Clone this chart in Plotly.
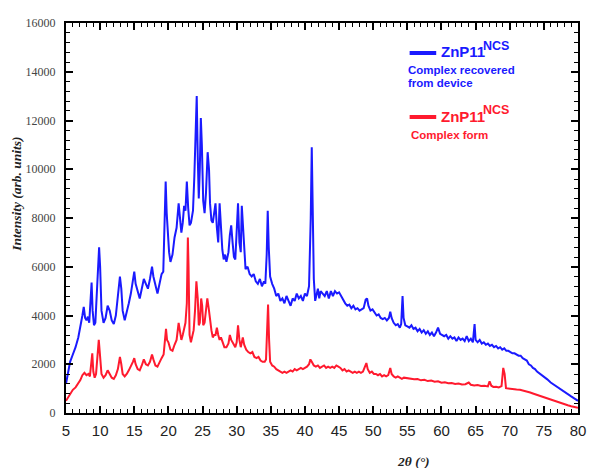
import plotly.graph_objects as go

# ---- Blue series: ZnP11NCS complex recovered from device ----
two_theta_blue = [
    5.0, 5.3, 5.6, 6.0, 6.4, 6.8, 7.1, 7.4, 7.6, 7.8, 8.0, 8.2, 8.4, 8.6, 8.75, 8.9, 9.1, 9.3, 9.5, 9.7,
    9.85, 10.0, 10.2, 10.5, 10.8, 11.1, 11.4, 11.7, 12.0, 12.3, 12.6, 12.9, 13.1, 13.3, 13.6, 13.9, 14.2,
    14.5, 14.8, 15.0, 15.2, 15.5, 15.8, 16.1, 16.4, 16.7, 17.0, 17.3, 17.6, 17.8, 18.1, 18.4, 18.7, 19.0,
    19.25, 19.45, 19.6, 19.75, 19.9, 20.1, 20.3, 20.6, 20.9, 21.2, 21.5, 21.7, 21.9, 22.1, 22.3, 22.5,
    22.7, 22.9, 23.1, 23.3, 23.6, 23.8, 24.0, 24.15, 24.3, 24.45, 24.6, 24.75, 24.9, 25.1, 25.3, 25.5,
    25.75, 25.95, 26.1, 26.3, 26.5, 26.7, 26.9, 27.1, 27.3, 27.5, 27.7, 27.9, 28.1, 28.3, 28.5, 28.8,
    29.0, 29.2, 29.4, 29.6, 29.8, 30.0, 30.2, 30.4, 30.6, 30.75, 30.9, 31.1, 31.3, 31.6, 31.9, 32.2,
    32.5, 32.8, 33.1, 33.4, 33.7, 34.0, 34.2, 34.4, 34.55, 34.7, 34.9, 35.2, 35.5, 35.8, 36.1, 36.4,
    36.7, 37.0, 37.3, 37.6, 37.9, 38.2, 38.5, 38.8, 39.1, 39.4, 39.7, 40.0, 40.3, 40.6, 40.85, 41.0,
    41.15, 41.3, 41.5, 41.7, 41.9, 42.1, 42.3, 42.6, 42.9, 43.2, 43.5, 43.8, 44.1, 44.4, 44.7, 45.0,
    45.3, 45.6, 45.9, 46.2, 46.5, 46.8, 47.1, 47.4, 47.7, 48.0, 48.3, 48.6, 48.9, 49.1, 49.3, 49.6,
    49.9, 50.2, 50.5, 50.8, 51.1, 51.4, 51.7, 52.0, 52.3, 52.5, 52.7, 53.0, 53.3, 53.6, 53.9, 54.1,
    54.3, 54.45, 54.7, 55.0, 55.3, 55.6, 55.9, 56.2, 56.5, 56.8, 57.1, 57.4, 57.7, 58.0, 58.3, 58.6,
    58.9, 59.2, 59.5, 59.8, 60.1, 60.4, 60.7, 61.0, 61.3, 61.6, 61.9, 62.2, 62.5, 62.8, 63.1, 63.4,
    63.7, 64.0, 64.3, 64.6, 64.85, 65.0, 65.3, 65.6, 65.9, 66.2, 66.5, 66.8, 67.1, 67.4, 67.7, 68.0,
    68.3, 68.6, 68.9, 69.2, 69.5, 69.8, 70.1, 70.4, 70.7, 71.0, 71.3, 71.6, 71.9, 72.2, 72.5, 72.8,
    73.1, 73.4, 73.7, 74.0, 74.5, 75.0, 75.5, 76.0, 76.5, 77.0, 77.5, 78.0, 78.5, 79.0, 79.5, 80.0,
]
intensity_blue = [
    1200, 1700, 2100, 2400, 2700, 3100, 3500, 4000, 4350, 3900, 3800, 3950, 3700, 4600, 5350, 4200, 3600, 3700, 4800, 5900,
    6800, 6000, 4200, 3700, 3900, 4400, 4200, 3800, 3650, 4000, 4700, 5600, 5100, 4200, 3800, 4100, 4500,
    4900, 5500, 5800, 5300, 5000, 4700, 5100, 5500, 5300, 5100, 5500, 6000, 5600, 5200, 4900, 5300, 5700,
    5800, 7800, 9500, 8200, 7500, 6600, 6200, 6500, 7200, 7600, 8600, 8100, 7400, 7800, 8500, 8300,
    9500, 8400, 7700, 7800, 8300, 9700, 12000, 13000, 10500, 8800, 10000, 12100, 11000, 8700, 8200, 9000,
    10700, 10000, 8600, 7900, 7800, 8300, 8600, 7600, 7000, 8600, 7600, 6700, 6300, 6500, 6200, 6600,
    7300, 7700, 7000, 6400, 6300, 7300, 8600, 7000, 6600, 8500, 7800, 6400, 5900, 6000, 5700, 5600,
    5700, 5400, 5300, 5500, 5200, 5400, 5300, 6500, 8300, 6800, 5600, 5300, 5100, 4800, 4900, 4600,
    4700, 4500, 4800, 4600, 4400, 4700, 4600, 4900, 4700, 4800, 4600, 4900, 4800, 5200, 8000, 10900,
    8500, 5500, 4600, 4800, 5100, 4700, 5000, 4900, 4800, 5000, 4700, 5000, 4800, 5000, 4900, 4950,
    4800, 4600, 4500, 4400, 4450, 4300, 4400, 4250, 4300, 4200, 4250, 4300, 4650, 4700, 4400, 4200,
    4250, 4100, 4000, 4050, 3900, 3850, 3900, 3800, 3900, 4150, 3900, 3700, 3600, 3650, 3500, 3650,
    4800, 3900, 3600, 3550, 3500, 3600, 3450, 3500, 3350, 3450, 3300, 3400, 3250, 3350, 3200, 3300,
    3150, 3300, 3500, 3250, 3200, 3150, 3200, 3050, 3150, 3050, 3100, 2950, 3100, 3000, 3050, 2950,
    3150, 2950, 3050, 2900, 3650, 3000, 2900, 3000, 2850, 2900, 2800, 2850, 2750, 2800, 2700, 2750,
    2650, 2700, 2600, 2650, 2550, 2550, 2500, 2450, 2450, 2400, 2350, 2350, 2250, 2200, 2150, 2000,
    1950, 1850, 1800, 1700, 1600, 1480, 1380, 1250, 1150, 1050, 950, 850, 760, 680, 590, 500,
]

# ---- Red series: ZnP11NCS complex form ----
two_theta_red = [
    5.0, 5.3, 5.6, 6.0, 6.4, 6.8, 7.1, 7.4, 7.7, 8.0, 8.3, 8.5, 8.7, 8.85, 9.0, 9.2, 9.4, 9.6, 9.8, 10.0,
    10.2, 10.5, 10.8, 11.1, 11.4, 11.7, 12.0, 12.3, 12.6, 12.9, 13.1, 13.3, 13.6, 13.9, 14.2, 14.5, 14.8,
    15.0, 15.2, 15.5, 15.8, 16.1, 16.4, 16.7, 17.0, 17.3, 17.6, 17.8, 18.1, 18.4, 18.7, 19.0, 19.3, 19.5,
    19.65, 19.8, 20.0, 20.3, 20.6, 20.9, 21.2, 21.5, 21.7, 21.9, 22.1, 22.3, 22.5, 22.7, 22.85, 22.95,
    23.1, 23.3, 23.5, 23.7, 23.9, 24.1, 24.3, 24.45, 24.6, 24.8, 24.95, 25.1, 25.3, 25.5, 25.7, 25.9,
    26.1, 26.3, 26.5, 26.7, 26.9, 27.1, 27.3, 27.5, 27.7, 27.9, 28.2, 28.5, 28.8, 29.0, 29.2, 29.5,
    29.8, 30.0, 30.2, 30.4, 30.6, 30.9, 31.1, 31.4, 31.7, 32.0, 32.3, 32.6, 32.9, 33.2, 33.5, 33.8,
    34.1, 34.3, 34.45, 34.6, 34.75, 34.9, 35.2, 35.5, 35.8, 36.1, 36.4, 36.7, 37.0, 37.3, 37.6, 37.9,
    38.2, 38.5, 38.8, 39.1, 39.4, 39.7, 40.0, 40.3, 40.6, 40.8, 41.0, 41.3, 41.6, 41.9, 42.2, 42.5,
    42.8, 43.1, 43.4, 43.7, 44.0, 44.3, 44.6, 44.9, 45.2, 45.5, 45.8, 46.1, 46.4, 46.7, 47.0, 47.3,
    47.6, 47.9, 48.2, 48.5, 48.8, 49.0, 49.2, 49.5, 49.8, 50.1, 50.4, 50.7, 51.0, 51.3, 51.6, 51.9,
    52.2, 52.5, 52.7, 53.0, 53.3, 53.6, 53.9, 54.2, 54.5, 55.0, 55.5, 56.0, 56.5, 57.0, 57.5, 58.0,
    58.5, 59.0, 59.5, 60.0, 60.5, 61.0, 61.5, 62.0, 62.5, 63.0, 63.5, 64.0, 64.3, 64.8, 65.3, 65.8,
    66.3, 66.8, 67.05, 67.3, 67.6, 68.0, 68.4, 68.8, 69.05, 69.25, 69.45, 69.8, 70.2, 70.6, 71.0, 71.5,
    72.0, 72.5, 73.0, 73.5, 74.0, 74.5, 75.0, 75.5, 76.0, 76.5, 77.0, 77.5, 78.0, 78.5, 79.0, 79.5, 80.0,
]
intensity_red = [
    500, 650, 800, 950, 1050, 1200, 1350, 1550, 1650, 1550, 1600, 1500, 2000, 2450, 1700, 1450, 1600, 2300, 3000, 2300,
    1600, 1450, 1550, 1750, 1600, 1450, 1400, 1550, 1800, 2300, 2000, 1600, 1500, 1600, 1750, 1900, 2100,
    2250, 2000, 1800, 1750, 1950, 2200, 2000, 1950, 2100, 2400, 2200, 1950, 1900, 2100, 2250, 2400, 3100,
    3450, 3000, 2900, 2600, 2550, 2800, 3000, 3700, 3400, 3000, 3200, 3500, 3700, 4500, 7200, 6000,
    3200, 2900, 3100, 3400, 4200, 5400, 4700, 3600, 3700, 4700, 4400, 3600, 3700, 4300, 4700, 4300,
    3700, 3400, 3100, 3200, 3200, 3500, 3200, 3000, 3100, 2900, 2700, 2700, 2850, 3200, 3000, 2850,
    2700, 2900, 3600, 3000, 2700, 3100, 2800, 2600, 2500, 2450, 2500, 2300, 2250, 2300, 2150, 2100,
    2100, 2200, 3500, 4450, 3000, 2100, 1950, 1900, 1800, 1750, 1700, 1650, 1700, 1650, 1700, 1750,
    1700, 1800, 1750, 1800, 1850, 1800, 1850, 1900, 2000, 2200, 2100, 1950, 1900, 1950, 1850, 1900,
    1950, 1850, 1900, 1850, 1900, 1850, 1950, 1900, 1850, 1750, 1800, 1700, 1750, 1700, 1650, 1700,
    1650, 1700, 1650, 1700, 1900, 2050, 1800, 1650, 1700, 1600, 1600, 1550, 1600, 1500, 1550, 1500,
    1550, 1850, 1600, 1500, 1450, 1500, 1450, 1400, 1450, 1420, 1400, 1380, 1390, 1340, 1360, 1310,
    1330, 1280, 1300, 1240, 1260, 1220, 1230, 1190, 1210, 1170, 1180, 1250, 1160, 1130, 1150, 1110,
    1120, 1090, 1300, 1120, 1070, 1080, 1050, 1100, 1850, 1600, 1020, 1000, 990, 980, 960, 950,
    920, 890, 840, 790, 740, 690, 640, 590, 540, 490, 450, 400, 360, 320, 280, 240, 210,
]

x_ticks = [5, 10, 15, 20, 25, 30, 35, 40, 45, 50, 55, 60, 65, 70, 75, 80]
y_ticks = [0, 2000, 4000, 6000, 8000, 10000, 12000, 14000, 16000]
y_tick_labels = ["0", "2000", "4000", "6000", "8000", "10000", "12000", "14000", "16000"]

BLUE = "#1a1aff"
RED = "#ff1a2e"

fig = go.Figure()
fig.add_trace(go.Scatter(x=two_theta_blue, y=intensity_blue, mode="lines",
                         line=dict(color=BLUE, width=2), showlegend=False))
fig.add_trace(go.Scatter(x=two_theta_red, y=intensity_red, mode="lines",
                         line=dict(color=RED, width=2), showlegend=False))
# empty trace that activates the mirrored top/right axes
fig.add_trace(go.Scatter(x=[], y=[], xaxis="x2", yaxis="y2", showlegend=False, hoverinfo="skip"))

L, R, T, B = 66, 10, 23, 55
W, H = 596, 468
pw, ph = W - L - R, H - T - B


def px_x(p):
    return (p - L) / pw


def px_y(p):
    return (H - B - p) / ph


common = dict(ticks="inside", ticklen=7, tickwidth=1.5, tickcolor="black", showline=True,
              linecolor="black", linewidth=2, showgrid=False, zeroline=False)

fig.update_layout(
    width=W, height=H,
    margin=dict(l=L, r=R, t=T, b=B),
    paper_bgcolor="white", plot_bgcolor="white",
    xaxis=dict(range=[5, 80], tickvals=x_ticks, ticktext=[str(v) for v in x_ticks],
               tickfont=dict(family="Liberation Sans, Arial", size=15, color="#222"),
               ticklabelstandoff=3,
               minor=dict(dtick=1, ticks="inside", ticklen=4, tickcolor="black", tickwidth=1, showgrid=False),
               **common),
    yaxis=dict(range=[0, 16000], tickvals=y_ticks, ticktext=y_tick_labels,
               tickfont=dict(family="Liberation Serif, Times New Roman", size=12, color="#444"),
               ticklabelstandoff=6,
               minor=dict(dtick=400, ticks="inside", ticklen=4, tickcolor="black", tickwidth=1, showgrid=False),
               **common),
    xaxis2=dict(range=[5, 80], overlaying="x", side="top", anchor="y", tickvals=x_ticks,
                showticklabels=False,
                minor=dict(dtick=1, ticks="inside", ticklen=4, tickcolor="black", tickwidth=1, showgrid=False),
                **common),
    yaxis2=dict(range=[0, 16000], overlaying="y", side="right", anchor="x", tickvals=y_ticks,
                showticklabels=False,
                minor=dict(dtick=400, ticks="inside", ticklen=4, tickcolor="black", tickwidth=1, showgrid=False),
                **common),
)

# legend lines
fig.add_shape(type="line", xref="paper", yref="paper", x0=px_x(415), x1=px_x(442),
              y0=px_y(53), y1=px_y(53), line=dict(color=BLUE, width=4))
fig.add_shape(type="line", xref="paper", yref="paper", x0=px_x(415), x1=px_x(442),
              y0=px_y(117), y1=px_y(117), line=dict(color=RED, width=4))

SANS = "Liberation Sans, Arial"


def label(text, px, py, color, size):
    fig.add_annotation(x=px_x(px), y=px_y(py), xref="paper", yref="paper", xanchor="left",
                       yanchor="middle", text="<b>" + text + "</b>", showarrow=False, borderpad=0,
                       font=dict(family=SANS, size=size, color=color))


label("ZnP11", 446, 52, BLUE, 15)
label("NCS", 489, 46, BLUE, 12.5)
label("Complex recovered", 412, 70, BLUE, 11.5)
label("from device", 412, 83, BLUE, 11.5)
label("ZnP11", 446, 116, RED, 15)
label("NCS", 489, 110, RED, 12.5)
label("Complex form", 415, 135, RED, 11.5)

# axis titles
fig.add_annotation(x=px_x(15), y=px_y(194), xref="paper", yref="paper", xanchor="center", yanchor="middle",
                   text="<b><i>Intensity (arb. units)</i></b>", textangle=-90, showarrow=False,
                   font=dict(family="Liberation Serif, Times New Roman", size=13.5, color="#222"))
fig.add_annotation(x=px_x(419), y=px_y(461), xref="paper", yref="paper", xanchor="center", yanchor="middle",
                   text="<b><i>2θ (°)</i></b>", showarrow=False,
                   font=dict(family="Liberation Serif, Times New Roman", size=13.5, color="#222"))

fig.write_html("out.html")
